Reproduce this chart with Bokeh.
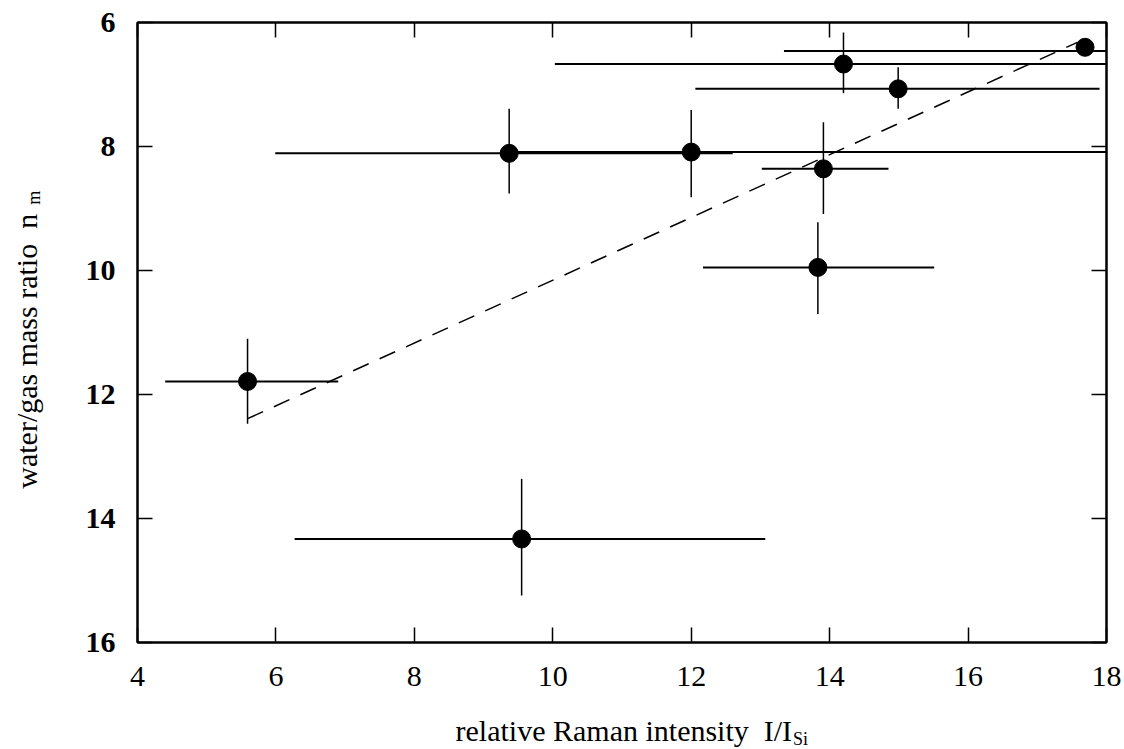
import math
from bokeh.plotting import figure
from bokeh.models import Range1d, LinearAxis, FixedTicker, Label, CustomJSTickFormatter
from bokeh.embed import file_html
from bokeh.resources import INLINE

# data: relative Raman intensity (x) vs water/gas mass ratio (y)
x_val = [17.69, 14.20, 14.99, 9.37, 12.00, 13.91, 13.83, 5.59, 9.55]
y_val = [6.40, 6.67, 7.07, 8.11, 8.09, 8.36, 9.95, 11.79, 14.33]
x_lo = [13.34, 10.03, 12.06, 5.99, 9.37, 13.02, 12.17, 4.40, 6.27]
x_hi = [18.00, 18.00, 17.90, 12.60, 18.00, 14.85, 15.51, 6.90, 13.07]
y_lo = [6.40, 6.16, 6.72, 7.39, 7.41, 7.61, 9.22, 11.10, 13.36]
y_hi = [6.40, 7.14, 7.39, 8.76, 8.82, 9.09, 10.70, 12.47, 15.24]
xbar_y = [6.46, 6.67, 7.07, 8.11, 8.09, 8.36, 9.95, 11.79, 14.33]

fit_x = [5.59, 17.58]
fit_y = [12.39, 6.32]

x_ticks = [4, 6, 8, 10, 12, 14, 16, 18]
y_ticks = [6, 8, 10, 12, 14, 16]

FONT = "Liberation Serif"
SP2 = "\u00a0\u00a0"

p = figure(width=1124, height=749, output_backend="svg", toolbar_location=None,
           x_range=Range1d(4, 18), y_range=Range1d(16, 6),
           min_border_left=137, min_border_right=18, min_border_top=22, min_border_bottom=107)
p.grid.visible = False
p.outline_line_color = "black"
p.outline_line_width = 2
p.background_fill_color = "white"
p.border_fill_color = "white"

for ax in (p.xaxis[0], p.yaxis[0]):
    ax.major_tick_in = 15
    ax.major_tick_out = 0
    ax.minor_tick_line_color = None
    ax.axis_line_color = "black"
    ax.axis_line_width = 2
    ax.major_tick_line_width = 1.5
    ax.major_label_text_font = FONT
    ax.major_label_text_color = "black"

p.xaxis[0].ticker = FixedTicker(ticks=x_ticks)
p.yaxis[0].ticker = FixedTicker(ticks=y_ticks)
p.xaxis[0].major_label_text_font_size = "30px"
p.yaxis[0].major_label_text_font_size = "30px"
p.yaxis[0].major_label_text_font_style = "bold"
p.xaxis[0].major_label_standoff = 24
p.yaxis[0].major_label_standoff = 22

blank = CustomJSTickFormatter(code="return ''")
top = LinearAxis(ticker=FixedTicker(ticks=x_ticks), formatter=blank)
right = LinearAxis(ticker=FixedTicker(ticks=y_ticks), formatter=blank)
for ax in (top, right):
    ax.major_tick_in = 15
    ax.major_tick_out = 0
    ax.minor_tick_line_color = None
    ax.axis_line_width = 2
    ax.major_tick_line_width = 1.5
    ax.major_label_standoff = 0
    ax.major_label_text_font_size = "1px"
p.add_layout(top, "above")
p.add_layout(right, "right")

# error bars
p.segment(x0=x_lo, x1=x_hi, y0=xbar_y, y1=xbar_y, line_color="black", line_width=2)
p.segment(x0=x_val, x1=x_val, y0=y_lo, y1=y_hi, line_color="black", line_width=1.5)

# fit line
p.line(fit_x, fit_y, line_color="black", line_width=1.5, line_dash="17 12")

# points
p.scatter(x_val, y_val, size=18, color="black", marker="circle")

# axis titles (with subscripts); placed in side panels so they are not clipped
p.add_layout(Label(x=8.595, y=17.42, text="relative Raman intensity" + SP2 + "I/I",
                   text_font=FONT, text_font_size="30px", text_color="black",
                   text_align="left", text_baseline="alphabetic"), "below")
p.add_layout(Label(x=13.47, y=17.55, text="Si",
                   text_font=FONT, text_font_size="18px", text_color="black",
                   text_align="left", text_baseline="alphabetic"), "left")
p.add_layout(Label(x=2.396, y=13.52, text="water/gas mass ratio" + SP2 + "n",
                   text_font=FONT, text_font_size="30px", text_color="black",
                   angle=math.pi / 2, text_align="left", text_baseline="alphabetic"), "left")
p.add_layout(Label(x=2.51, y=8.94, text="m",
                   text_font=FONT, text_font_size="18px", text_color="black",
                   angle=math.pi / 2, text_align="left", text_baseline="alphabetic"), "left")

open("out.html", "w").write(file_html(p, INLINE))
